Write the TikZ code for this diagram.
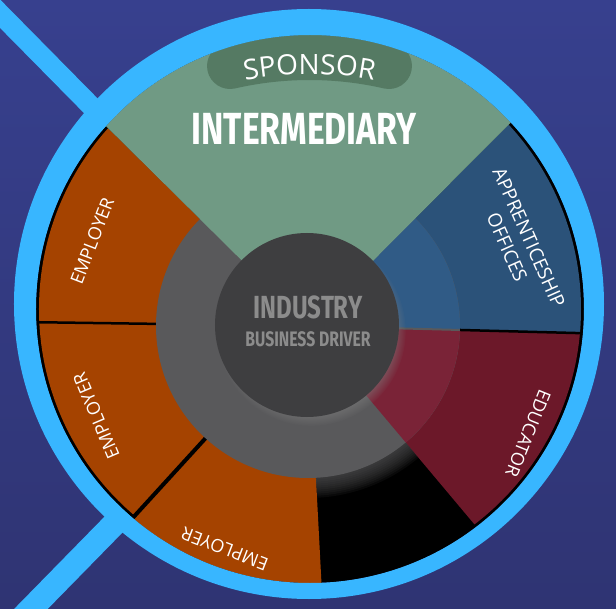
\documentclass[tikz,border=0pt]{standalone}
\usepackage{fontspec}
\setmainfont{Open Sans}
\newfontfamily\condfont[FakeStretch=0.75]{Fira Sans}
\usetikzlibrary{shadows,decorations.text}
\definecolor{bgtop}{HTML}{37408E}
\definecolor{bgbottom}{HTML}{2F3473}
\definecolor{ringblue}{HTML}{38B6FF}
\definecolor{sage}{HTML}{709A84}
\definecolor{sagedark}{HTML}{557A63}
\definecolor{rust}{HTML}{A54300}
\definecolor{steel}{HTML}{2B5279}
\definecolor{steellight}{HTML}{305B86}
\definecolor{wine}{HTML}{6C1829}
\definecolor{winelight}{HTML}{7A2337}
\definecolor{ringgray}{HTML}{59595B}
\definecolor{hubgray}{HTML}{3E3E40}
\definecolor{hubtext}{HTML}{8C8C8C}
\tikzset{
	seglabel/.style={text=white, font=\fontsize{18}{24}\selectfont, align=center, inner sep=0pt},
	hublabel/.style={text=hubtext, inner sep=0pt},
	seggap/.style={black, line width=#1},
}
\begin{document}
\begin{tikzpicture}[x=1pt,y=1pt]
			\useasboundingbox (-308,-282) rectangle (308,326);
			\clip (-308,-282) rectangle (308,326);
			\shade[top color=bgtop, bottom color=bgbottom] (-308,-282) rectangle (308,326);
			\draw[ringblue, line width=20] (0,0) -- (134.6:500);
			\draw[ringblue, line width=24] (0,0) -- (225.6:500);
			\fill[black] (2,17) circle[radius=274];
			\begin{scope}
				\clip (2,17) circle[radius=274];
				\fill[rust] (0,0) -- (227.6:400) arc[start angle=227.6, end angle=273, radius=400] -- cycle;
				\begin{scope}
					\clip (2,17) circle[radius=271];
					\fill[rust] (0,0) -- (135.3:400) arc[start angle=135.3, end angle=179.2, radius=400] -- cycle;
					\fill[rust] (0,0) -- (179.2:400) arc[start angle=179.2, end angle=227.6, radius=400] -- cycle;
					\fill[steel] (0,0) -- (-1.5:400) arc[start angle=-1.5, end angle=45.1, radius=400] -- cycle;
					\fill[wine] (0,0) -- (310:400) arc[start angle=310, end angle=358.5, radius=400] -- cycle;
				\end{scope}
				\draw[seggap=2.5] (0,0) -- (179.2:300);
				\draw[seggap=4] (0,0) -- (227.6:300);
				\draw[seggap=2.5] (0,0) -- (-1.5:300);
				\begin{scope}
					\clip (0,0) -- (273:300) arc[start angle=273, end angle=310, radius=300] -- cycle;
					\foreach \k in {1,...,10}
						\fill[ringgray, opacity=0.1] (0,0) circle[radius=152+2*\k];
				\end{scope}
				\fill[ringgray] (0,0) circle[radius=152];
				\fill[steellight] (0,0) -- (-1.5:152) arc[start angle=-1.5, end angle=45.1, radius=152] -- cycle;
				\fill[winelight] (0,0) -- (310:152) arc[start angle=310, end angle=358.5, radius=152] -- cycle;
				\draw[ringgray, line width=2] (0,0) -- (-1.5:152);
				\fill[sage] (0,0) -- (45.1:400) arc[start angle=45.1, end angle=135.3, radius=400] -- cycle;
				\draw[sagedark, line width=46, line cap=round] (1.5,-87) ++(102.9:356) arc[start angle=102.9, end angle=77.1, radius=356];
			\end{scope}
			\fill[ringblue, even odd rule] (1,22) circle[radius=295] (2,17) circle[radius=274];
			\path[decorate, decoration={text along path, text align=center, text color=white,
				text={|\fontsize{28}{28}\selectfont|SPONSOR}}] (1.5,-87) ++(120:339) arc[start angle=120, end angle=60, radius=339];
			\node[text=white, font=\condfont\bfseries\fontsize{45}{45}\selectfont] (intermediary) at (-4,197) {INTERMEDIARY};
			\node[circle, fill=hubgray, minimum size=184, inner sep=0pt,
				circular drop shadow={shadow xshift=4pt, shadow yshift=-6pt, shadow scale=1.03, opacity=0.6}] (hub) at (-1,1) {};
			\node[hublabel, font=\condfont\bfseries\fontsize{32}{32}\selectfont] (industry) at (0,19) {INDUSTRY};
			\node[hublabel, font=\condfont\bfseries\fontsize{21}{21}\selectfont] (driver) at (0,-13) {BUSINESS DRIVER};
			\node[seglabel, rotate=69] (employertop) at (158.5:232) {EMPLOYER};
			\node[seglabel, rotate=113] (employermid) at (203:230) {EMPLOYER};
			\node[seglabel, rotate=159] (employerlow) at (249.5:238) {EMPLOYER};
			\node[seglabel, rotate=-112] (educator) at (334:245) {EDUCATOR};
			\node[seglabel, rotate=-66, font=\fontsize{19}{24}\selectfont] (offices) at (21.7:226) {APPRENTICESHIP\\OFFICES};
\end{tikzpicture}
\end{document}
